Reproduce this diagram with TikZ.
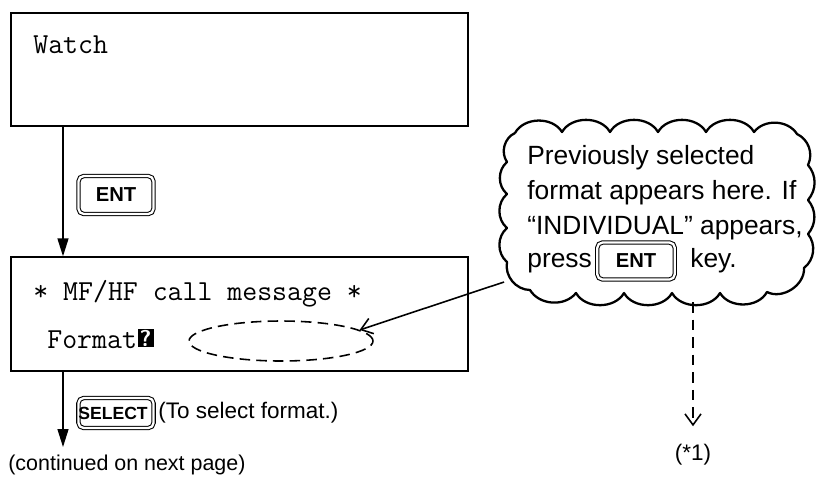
\documentclass[tikz,border=0pt]{standalone}
\usepackage{fontspec}
\setmainfont{Liberation Sans}
\usetikzlibrary{arrows.meta,shapes.geometric}
\begin{document}
\begin{tikzpicture}[x=0.02cm,y=-0.02cm,
  screen/.style={draw, line width=0.8pt, inner sep=0pt},
  mono/.style={font=\ttfamily\fontsize{16.5}{18}\selectfont, inner sep=0pt, anchor=base west},
  sans/.style={font=\fontsize{15}{18}\selectfont, inner sep=0pt, anchor=base west},
  small/.style={font=\fontsize{12.8}{15}\selectfont, inner sep=0pt, anchor=base west},
  keybox/.style={draw, double, double distance=1.3pt, line width=0.6pt, rounded corners=3pt,
     font=\bfseries\fontsize{11.5}{12}\selectfont, inner sep=0pt, minimum width=1.5cm, minimum height=0.76cm},
  flow/.style={line width=0.8pt, -{Triangle[length=3.6mm,width=2.2mm]}},
  barb/.style={line width=0.9pt, -{Straight Barb[length=2.2mm,width=3.2mm]}},
  cloudline/.style={line width=1.3pt, line join=round},
]
\useasboundingbox (0,0) rectangle (820,488);
% screens
\node[screen, minimum width=9.14cm, minimum height=2.26cm] (watch) at (239.5,69.5) {};
\node[screen, minimum width=9.14cm, minimum height=2.28cm] (msg) at (239.5,314) {};
\node[mono] (watchtxt) at (33,53) {Watch};
\node[mono] (title) at (33,300) {* MF/HF call message *};
\node[mono] (fmt) at (47,348) {Format};
\node[fill=black, text=white, font=\sffamily\bfseries\fontsize{13}{13}\selectfont, inner sep=0pt, minimum width=0.32cm, minimum height=0.36cm, anchor=west] (qm) at ([yshift=0.02cm]fmt.east) {?};
\node[draw, dashed, dash pattern=on 6pt off 3.5pt, line width=0.9pt, ellipse, minimum width=3.68cm, minimum height=0.8cm, inner sep=0pt] (oval) at (281,341) {};
% flow
\coordinate (lx) at (63,0);
\coordinate (flowend) at (63,447);
\draw[flow] (watch.south -| lx) -- (msg.north -| lx);
\draw[flow] (msg.south -| lx) -- (flowend);
\node[keybox] (ent) at (116,195) {ENT};
\node[keybox, minimum height=0.6cm, font=\bfseries\fontsize{10}{11}\selectfont] (sel) at (116,413) {SELECT\,\,};
\node[small, anchor=west] (seltxt) at (158,413) {(To select format.)};
\node[small, font=\fontsize{12.2}{15}\selectfont] (cont) at (8,470) {(continued on next page)};
% cloud
\draw[cloudline] (515,133) to[bend left=60] (562,132) to[bend left=60] (610,132)
  to[bend left=60] (658,132) to[bend left=60] (706,132) to[bend left=60] (754,132)
  to[bend left=55] (797,134) to[bend left=45] (808,165) to[bend left=40] (808,200)
  to[bend left=40] (808,234) to[bend left=45] (804,268) to[bend left=60] (767,292)
  to[bend left=60] (720,293) to[bend left=60] (672,293) to[bend left=60] (624,293)
  to[bend left=60] (576,293) to[bend left=55] (530,290) to[bend left=50] (507,262)
  to[bend left=50] (507,228) to[bend left=50] (507,194) to[bend left=50] (507,162)
  to[bend left=50] (515,133);
\node[sans] (l1) at (527,164) {Previously selected};
\node[sans] (l2) at (527,199) {format appears here. If};
\node[sans] (l3) at (527,234) {“INDIVIDUAL” appears,};
\node[sans] (l4) at (527,267) {press};
\node[keybox, minimum height=0.74cm, minimum width=1.55cm] (ent2) at (636,261) {ENT};
\node[sans] (l5) at (690,267) {key.};
\coordinate (ctail) at (504,282);
\coordinate (cbot) at (693,302);
\draw[barb] (ctail) -- (oval.8);
\node[small, anchor=center] (star) at (693,455) {(*1)};
\draw[barb, dashed, dash pattern=on 6pt off 4pt, shorten >=1pt] (cbot) -- (693,428) coordinate (starend);
\end{tikzpicture}
\end{document}
